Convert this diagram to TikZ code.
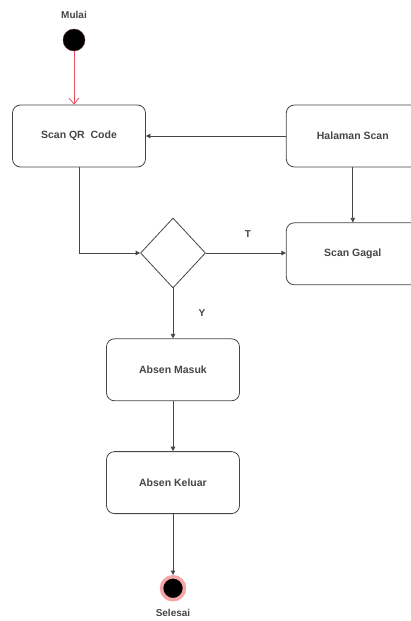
\documentclass[tikz,border=0pt]{standalone}
\usepackage{fontspec}
\setmainfont{Liberation Sans}
\usetikzlibrary{positioning,arrows.meta,shapes.geometric}
\definecolor{Ink}{RGB}{70,70,70}
\definecolor{Pink}{RGB}{235,80,100}
\definecolor{Halo}{RGB}{245,165,165}

\begin{document}
\begin{tikzpicture}[x=1pt,y=1pt,node distance=50pt,
 b/.style={rounded corners=8pt,draw=Ink,line width=.8pt,minimum width=133pt,minimum height=62pt,align=center,font=\fontsize{10.5}{12}\selectfont\bfseries,text=Ink},
 t/.style={font=\fontsize{10}{12}\selectfont\bfseries,text=Ink},
 a/.style={-{Triangle[length=4.5pt,width=4.5pt]},line width=.8pt,Ink}]
\useasboundingbox (0,0) rectangle (411,-621);
\node[circle,fill=black,draw=Pink!40!black,minimum size=22pt,inner sep=0pt] (st) at (74,-40) {};
\node[t] (mulai) at (74,-15) {Mulai};
\node[b] (scan) at (79,-136) {Scan QR\ \ Code};
\node[b,right=140pt of scan] (hal) {Halaman Scan};
\node[b,below=55pt of hal] (gagal) {Scan Gagal};
\node[diamond,draw=Ink,line width=.8pt,minimum width=65pt,minimum height=70pt,inner sep=0pt] (dec) at (173,-253) {};
\node[b,below=50pt of dec] (masuk) {Absen Masuk};
\node[b,below=of masuk] (keluar) {Absen Keluar};
\node[circle,fill=black,draw=Halo,line width=3.5pt,minimum size=23pt,inner sep=0pt,below=61pt of keluar] (end) {};
\node[t] (selesai) at (173,-613) {Selesai};
\draw[-{Straight Barb[length=6pt,width=10pt]},line width=.8pt,Pink] (st) -- (st |- scan.north);
\draw[a] (hal) -- (scan);
\draw[a] (hal) -- (gagal);
\draw[a] (scan.south) |- (dec.west);
\draw[a] (dec.east) -- (dec.east -| gagal.west) node[t,midway,above=12pt,xshift=2pt] {T};
\draw[a] (dec.south) -- (masuk.north) node[t,midway,right=22pt] {Y};
\draw[a] (masuk) -- (keluar);
\draw[a] (keluar) -- (end);
\end{tikzpicture}
\end{document}
